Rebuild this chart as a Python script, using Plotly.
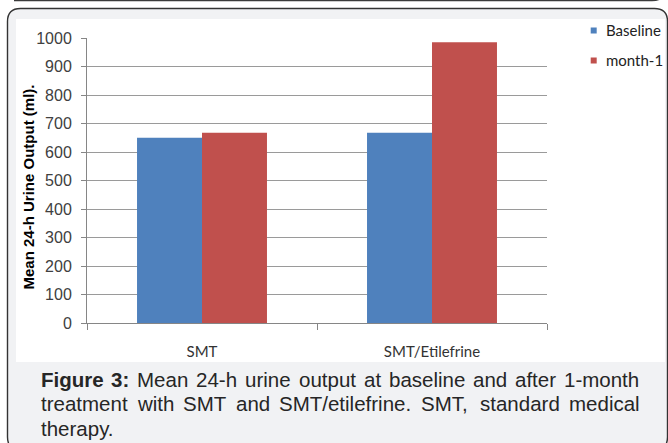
import plotly.graph_objects as go

# ---- data -------------------------------------------------------------
categories = ["SMT", "SMT/Etilefrine"]
series_names = ["Baseline", "month-1"]
baseline = [651, 669]
month_1 = [669, 986]
y_ticks = [0, 100, 200, 300, 400, 500, 600, 700, 800, 900, 1000]
caption_lines = [
    "**Figure 3:** Mean 24-h urine output at baseline and after 1-month",
    "treatment with SMT and SMT/etilefrine. SMT, standard medical",
    "therapy.",
]
y_title = "Mean 24-h Urine Output (ml)."

# ---- page geometry (pixels -> paper fractions) -------------------------
W, H = 668, 443


def px(x):
    return x / W


def py(y):
    return 1 - y / H


colors = ["#4f81bd", "#c0504d"]
grid_col = "#9a9a9a"
tick_font = dict(family="Liberation Sans, Arial, sans-serif", size=16, color="#404040")
cat_font = dict(family="Lato, Calibri, sans-serif", size=15, color="#333333")
legend_font = dict(family="Lato, Calibri, sans-serif", size=15, color="#222222")

fig = go.Figure()
for name, vals, col in zip(series_names, [baseline, month_1], colors):
    fig.add_trace(go.Bar(
        x=categories, y=vals, name=name, marker_color=col,
        marker_line_width=0, showlegend=False,
    ))


def rounded_rect(x0, y0, x1, y1, r):
    rx, ry = r / W, r / H
    X0, X1 = px(x0), px(x1)
    Y0, Y1 = py(y0), py(y1)  # Y0 is the top edge in paper units
    return (f"M {X0 + rx},{Y0} L {X1 - rx},{Y0} Q {X1},{Y0} {X1},{Y0 - ry} "
            f"L {X1},{Y1 + ry} Q {X1},{Y1} {X1 - rx},{Y1} "
            f"L {X0 + rx},{Y1} Q {X0},{Y1} {X0},{Y1 + ry} "
            f"L {X0},{Y0 - ry} Q {X0},{Y0} {X0 + rx},{Y0} Z")


shapes = [
    # bottom edge of the box above
    dict(type="path", xref="paper", yref="paper", layer="below",
         path=f"M {px(14)},{py(0.6)} L {px(652)},{py(0.6)} Q {px(660)},{py(0.6)} {px(664)},{py(-4)}",
         line=dict(color="#3a3a3a", width=1.3)),
    # figure frame
    dict(type="path", xref="paper", yref="paper", layer="below",
         path=rounded_rect(7.5, 8.5, 667.5, 450, 13),
         fillcolor="#f1f2f4", line=dict(color="#333333", width=1.4)),
    # chart area
    dict(type="rect", xref="paper", yref="paper", layer="below",
         x0=px(16), x1=px(665), y0=py(362), y1=py(19),
         fillcolor="white", line=dict(width=0)),
]

annotations = [
    dict(text=f"<b>{y_title}</b>", textangle=-90, xref="paper", yref="paper",
         x=px(28), y=py(187.5), showarrow=False, xanchor="center", yanchor="middle",
         font=dict(family="Liberation Sans, Arial, sans-serif", size=15, color="black")),
]

# legend: small squares + labels
leg_y = [30.5, 60.5]
for name, col, yc in zip(series_names, colors, leg_y):
    shapes.append(dict(type="rect", xref="paper", yref="paper", layer="above",
                       x0=px(590.7), x1=px(596.7), y0=py(yc + 3), y1=py(yc - 3),
                       fillcolor=col, line=dict(width=0)))
    annotations.append(dict(text=name, xref="paper", yref="paper", x=px(604), y=py(yc),
                            xanchor="left", yanchor="middle", showarrow=False,
                            font=legend_font))

# ---- caption: justified text laid out word by word ---------------------
# Arial / Liberation Sans advance widths (per 1000 em)
REG = dict(a=556, b=556, c=500, d=556, e=556, f=278, g=556, h=556, i=222, j=222, k=500,
           l=222, m=833, n=556, o=556, p=556, q=556, r=333, s=500, t=278, u=556, v=500,
           w=722, x=500, y=500, z=500, F=611, M=833, S=667, T=611, E=667)
REG.update({d: 556 for d in "0123456789"})
REG.update({"-": 333, ".": 278, ",": 278, "/": 278, ":": 278, " ": 278})
BOLD = dict(F=611, i=278, g=611, u=611, r=389, e=556, **{"3": 556, ":": 333, " ": 278})

cap_size = 20.5
cap_font = dict(family="Liberation Sans, Arial, sans-serif", size=cap_size, color="#262626")
cap_left, cap_right = 39.5, 638.5


def word_width(word, bold):
    table = BOLD if bold else REG
    return sum(table.get(ch, 556) for ch in word) * cap_size / 1000


for i, line in enumerate(caption_lines):
    yc = 379 + 24.5 * i
    # split into (word, bold) pieces
    words = []
    for j, part in enumerate(line.split("**")):
        for w in part.split():
            words.append((w, j % 2 == 1))
    last = i == len(caption_lines) - 1
    widths = [word_width(w, b) for w, b in words]
    if last or len(words) < 2:
        gap = REG[" "] * cap_size / 1000
    else:
        gap = (cap_right - cap_left - sum(widths)) / (len(words) - 1)
    x = cap_left
    for (w, b), wd in zip(words, widths):
        annotations.append(dict(text=f"<b>{w}</b>" if b else w, xref="paper", yref="paper",
                                x=px(x), y=py(yc), xanchor="left", yanchor="middle",
                                showarrow=False, borderpad=0, font=cap_font))
        x += wd + gap

fig.update_layout(
    template="none",
    width=W, height=H,
    margin=dict(l=0, r=0, t=0, b=0, autoexpand=False),
    paper_bgcolor="white",
    plot_bgcolor="rgba(0,0,0,0)",
    barmode="group", bargap=0.435, bargroupgap=0,
    shapes=shapes, annotations=annotations,
    xaxis=dict(
        domain=[px(87), px(547)], type="category", automargin=False,
        tickson="boundaries", ticks="outside", ticklen=6, tickcolor="#868686",
        showline=True, linecolor="#868686", linewidth=1,
        showgrid=False, tickfont=cat_font, ticklabelstandoff=15,
    ),
    yaxis=dict(
        domain=[py(323.3), py(38.3)], range=[0, 1000], automargin=False,
        tickvals=y_ticks, ticks="outside", ticklen=5, tickcolor="#868686",
        showline=True, linecolor="#868686", linewidth=1,
        showgrid=True, gridcolor=grid_col, gridwidth=1, zeroline=False,
        tickfont=tick_font, ticklabelstandoff=6,
    ),
    showlegend=False,
)

fig.write_html("out.html")
